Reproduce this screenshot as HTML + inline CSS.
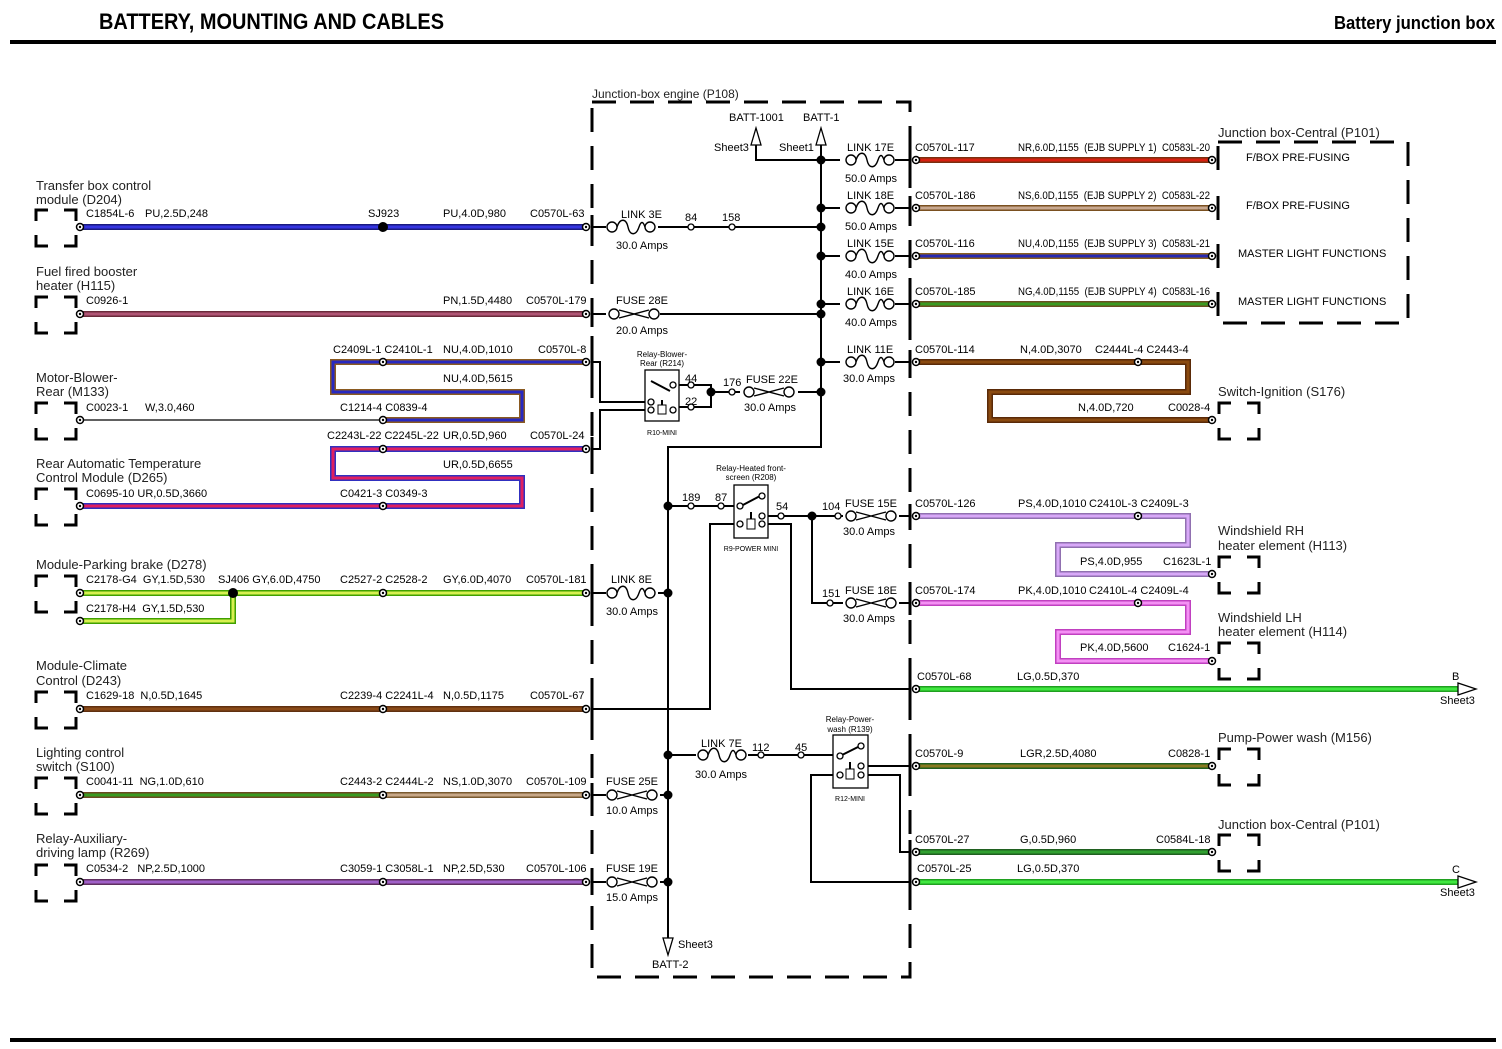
<!DOCTYPE html>
<html><head><meta charset="utf-8"><style>
body{margin:0;background:#fff;}
svg{display:block;font-family:"Liberation Sans",Arial,sans-serif;}
.t{font-size:11px;fill:#000}
.n{font-size:13px;fill:#222}
.s{font-size:7px;fill:#000}
.k{stroke:#000;stroke-width:2;fill:none}
.k1{stroke:#000;stroke-width:1.3;fill:none}
.o{fill:none;stroke-width:6;stroke-linejoin:miter}
.i{fill:none;stroke-width:3;stroke-linejoin:miter}
.d{stroke:#000;stroke-width:3;fill:none;stroke-dasharray:24,14}
</style></head><body>
<svg width="1502" height="1049" viewBox="0 0 1502 1049" xmlns="http://www.w3.org/2000/svg">
<defs>
<g id="brk" fill="none" stroke="#000" stroke-width="3"><path d="M1,12V1H13M29,1H41V12M1,26V37H13M29,37H41V26"/></g>
<g id="lnk" fill="none" stroke="#000" stroke-width="1.4"><circle cx="6" cy="0" r="5" fill="#fff"/><circle cx="44" cy="0" r="5" fill="#fff"/><path d="M11,0C14,-9 20,-9 22,0C24,9 30,9 33,0C35,-6 37,-6 39,0"/></g>
<g id="fus" fill="none" stroke="#000" stroke-width="1.4"><circle cx="6" cy="0" r="5" fill="#fff"/><circle cx="46" cy="0" r="5" fill="#fff"/><path d="M11,-4L41,4M11,4L41,-4"/></g>
<g id="cn"><circle r="3.5" fill="#fff" stroke="#000" stroke-width="1.5"/><circle r="1.2" fill="#000"/></g>
<g id="pc"><circle r="3" fill="#fff" stroke="#000" stroke-width="1.3"/></g>
</defs>

<!-- header -->
<text x="99" y="29" style="font-size:22px;font-weight:bold" textLength="345" lengthAdjust="spacingAndGlyphs">BATTERY, MOUNTING AND CABLES</text>
<text x="1334" y="29" style="font-size:18px;font-weight:bold" textLength="161" lengthAdjust="spacingAndGlyphs">Battery junction box</text>
<rect x="10" y="40" width="1486" height="4" fill="#000"/>
<rect x="10" y="1038" width="1486" height="4" fill="#000"/>

<!-- junction box engine -->
<text x="592" y="98" class="n" style="font-size:12px">Junction-box engine (P108)</text>
<path class="d" d="M592,102H910V977H592Z"/>

<!-- left brackets -->
<use href="#brk" x="35" y="209"/><use href="#brk" x="35" y="296"/><use href="#brk" x="35" y="402"/><use href="#brk" x="35" y="488"/>
<use href="#brk" x="35" y="575"/><use href="#brk" x="35" y="691"/><use href="#brk" x="35" y="777"/><use href="#brk" x="35" y="864"/>
<text class="n" x="36" y="190">Transfer box control</text><text class="n" x="36" y="204">module (D204)</text>
<text class="n" x="36" y="276">Fuel fired booster</text><text class="n" x="36" y="290">heater (H115)</text>
<text class="n" x="36" y="382">Motor-Blower-</text><text class="n" x="36" y="396">Rear (M133)</text>
<text class="n" x="36" y="468">Rear Automatic Temperature</text><text class="n" x="36" y="482">Control Module (D265)</text>
<text class="n" x="36" y="569">Module-Parking brake (D278)</text>
<text class="n" x="36" y="670">Module-Climate</text><text class="n" x="36" y="685">Control (D243)</text>
<text class="n" x="36" y="757">Lighting control</text><text class="n" x="36" y="771">switch (S100)</text>
<text class="n" x="36" y="843">Relay-Auxiliary-</text><text class="n" x="36" y="857">driving lamp (R269)</text>

<!-- right brackets -->
<text class="n" x="1218" y="137">Junction box-Central (P101)</text>
<path d="M1218,142H1408V323H1218" fill="none" stroke="#000" stroke-width="3" stroke-dasharray="24,14"/>
<path d="M1218,146V170M1218,196V220M1218,244V268M1218,292V316" stroke="#000" stroke-width="3"/>
<text class="t" x="1246" y="161">F/BOX PRE-FUSING</text><text class="t" x="1246" y="209">F/BOX PRE-FUSING</text>
<text class="t" x="1238" y="257">MASTER LIGHT FUNCTIONS</text><text class="t" x="1238" y="305">MASTER LIGHT FUNCTIONS</text>
<text class="n" x="1218" y="396">Switch-Ignition (S176)</text><use href="#brk" x="1218" y="402"/>
<text class="n" x="1218" y="535">Windshield RH</text><text class="n" x="1218" y="550">heater element (H113)</text><use href="#brk" x="1218" y="556"/>
<text class="n" x="1218" y="622">Windshield LH</text><text class="n" x="1218" y="636">heater element (H114)</text><use href="#brk" x="1218" y="642"/>
<text class="n" x="1218" y="742">Pump-Power wash (M156)</text><use href="#brk" x="1218" y="748"/>
<text class="n" x="1218" y="829">Junction box-Central (P101)</text><use href="#brk" x="1218" y="834"/>

<!-- WIRES (outer/inner) -->
<g>
<path class="o" stroke="#1a1a80" d="M80,227H586"/><path class="i" stroke="#3535e0" d="M80,227H586"/>
<path class="o" stroke="#6a2a3a" d="M80,314H586"/><path class="i" stroke="#b05575" d="M80,314H586"/>
<path class="o" stroke="#8a5a20" d="M586,362H333V392H522V420H383"/><path class="i" stroke="#2828c0" d="M586,362H333V392H522V420H383"/>
<path class="k1" d="M80,420H380"/>
<path class="o" stroke="#3030c0" d="M586,449H333V478H522V506H80"/><path class="i" stroke="#e02060" d="M586,449H333V478H522V506H80"/>
<path class="o" stroke="#40a000" d="M80,593H586M80,621H233V593"/><path class="i" stroke="#d8f050" d="M80,593H586M80,621H233V593"/>
<path class="o" stroke="#603010" d="M80,709H586"/><path class="i" stroke="#8a4a18" d="M80,709H586"/>
<path class="o" stroke="#6a4a20" d="M80,795H383"/><path class="i" stroke="#3a9a20" d="M80,795H383"/>
<path class="o" stroke="#7a5a30" d="M383,795H586"/><path class="i" stroke="#c8a888" d="M383,795H586"/>
<path class="o" stroke="#603060" d="M80,882H586"/><path class="i" stroke="#a060c8" d="M80,882H586"/>

<path class="o" stroke="#7a3010" d="M916,160H1212"/><path class="i" stroke="#d82010" d="M916,160H1212"/>
<path class="o" stroke="#7a5020" d="M916,208H1212"/><path class="i" stroke="#c8a890" d="M916,208H1212"/>
<path class="o" stroke="#8a6020" d="M916,256H1212"/><path class="i" stroke="#2828b0" d="M916,256H1212"/>
<path class="o" stroke="#6a5020" d="M916,304H1212"/><path class="i" stroke="#3a9a20" d="M916,304H1212"/>
<path class="o" stroke="#5a2a08" d="M916,362H1188V392H990V420H1212"/><path class="i" stroke="#8a4a10" d="M916,362H1188V392H990V420H1212"/>
<path class="o" stroke="#9070b0" d="M916,516H1188V545H1058V574H1212"/><path class="i" stroke="#d8a8f8" d="M916,516H1188V545H1058V574H1212"/>
<path class="o" stroke="#c040c0" d="M916,603H1188V632H1058V661H1212"/><path class="i" stroke="#f490f4" d="M916,603H1188V632H1058V661H1212"/>
<path class="o" stroke="#20a020" d="M916,689H1462"/><path class="i" stroke="#40e840" d="M916,689H1462"/>
<path class="o" stroke="#206020" d="M916,766H1212"/><path class="i" stroke="#8a7a20" d="M916,766H1212"/>
<path class="o" stroke="#206020" d="M916,852H1212"/><path class="i" stroke="#30a030" d="M916,852H1212"/>
<path class="o" stroke="#20a020" d="M916,882H1462"/><path class="i" stroke="#40e840" d="M916,882H1462"/>
</g>
<!-- arrows B C -->
<path d="M1458,683L1476,689L1458,695Z M1458,876L1476,882L1458,888Z" fill="#fff" stroke="#000" stroke-width="1.3"/>
<text class="t" x="1452" y="680">B</text><text class="t" x="1440" y="704">Sheet3</text>
<text class="t" x="1452" y="873">C</text><text class="t" x="1440" y="896">Sheet3</text>

<!-- splice dots -->
<circle cx="383" cy="227" r="5"/><circle cx="233" cy="593" r="5"/>
<text class="t" x="368" y="217">SJ923</text>

<!-- connectors -->
<g>
<use href="#cn" x="80" y="227"/><use href="#cn" x="586" y="227"/>
<use href="#cn" x="80" y="314"/><use href="#cn" x="586" y="314"/>
<use href="#cn" x="383" y="362"/><use href="#cn" x="586" y="362"/>
<use href="#cn" x="80" y="420"/><use href="#cn" x="383" y="420"/>
<use href="#cn" x="383" y="449"/><use href="#cn" x="586" y="449"/>
<use href="#cn" x="80" y="506"/><use href="#cn" x="383" y="506"/>
<use href="#cn" x="80" y="593"/><use href="#cn" x="80" y="621"/><use href="#cn" x="383" y="593"/><use href="#cn" x="586" y="593"/>
<use href="#cn" x="80" y="709"/><use href="#cn" x="383" y="709"/><use href="#cn" x="586" y="709"/>
<use href="#cn" x="80" y="795"/><use href="#cn" x="383" y="795"/><use href="#cn" x="586" y="795"/>
<use href="#cn" x="80" y="882"/><use href="#cn" x="383" y="882"/><use href="#cn" x="586" y="882"/>
<use href="#cn" x="916" y="160"/><use href="#cn" x="1212" y="160"/>
<use href="#cn" x="916" y="208"/><use href="#cn" x="1212" y="208"/>
<use href="#cn" x="916" y="256"/><use href="#cn" x="1212" y="256"/>
<use href="#cn" x="916" y="304"/><use href="#cn" x="1212" y="304"/>
<use href="#cn" x="916" y="362"/><use href="#cn" x="1138" y="362"/><use href="#cn" x="1212" y="420"/>
<use href="#cn" x="916" y="516"/><use href="#cn" x="1138" y="516"/><use href="#cn" x="1212" y="574"/>
<use href="#cn" x="916" y="603"/><use href="#cn" x="1138" y="603"/><use href="#cn" x="1212" y="661"/>
<use href="#cn" x="916" y="689"/><use href="#cn" x="916" y="766"/><use href="#cn" x="1212" y="766"/>
<use href="#cn" x="916" y="852"/><use href="#cn" x="1212" y="852"/><use href="#cn" x="916" y="882"/>
</g>
<path d="M592,215V240M592,302V327M592,350V374M592,437V462M592,581V606M592,697V722M592,783V808M592,870V895M910,148V172M910,196V220M910,244V268M910,292V316M910,350V374M910,504V528M910,591V615M910,677V701M910,754V778M910,840V864M910,870V894" stroke="#000" stroke-width="3"/>

<!-- left wire labels -->
<g class="t">
<text x="86" y="217">C1854L-6</text><text x="145" y="217">PU,2.5D,248</text><text x="443" y="217">PU,4.0D,980</text><text x="530" y="217">C0570L-63</text>
<text x="86" y="304">C0926-1</text><text x="443" y="304">PN,1.5D,4480</text><text x="526" y="304">C0570L-179</text>
<text x="333" y="353">C2409L-1 C2410L-1</text><text x="443" y="353">NU,4.0D,1010</text><text x="538" y="353">C0570L-8</text>
<text x="443" y="382">NU,4.0D,5615</text>
<text x="86" y="411">C0023-1</text><text x="145" y="411">W,3.0,460</text><text x="340" y="411">C1214-4 C0839-4</text>
<text x="327" y="439">C2243L-22 C2245L-22</text><text x="443" y="439">UR,0.5D,960</text><text x="530" y="439">C0570L-24</text>
<text x="443" y="468">UR,0.5D,6655</text>
<text x="86" y="497">C0695-10 UR,0.5D,3660</text><text x="340" y="497">C0421-3 C0349-3</text>
<text x="86" y="583">C2178-G4&#160;&#160;GY,1.5D,530</text><text x="218" y="583">SJ406 GY,6.0D,4750</text><text x="340" y="583">C2527-2 C2528-2</text><text x="443" y="583">GY,6.0D,4070</text><text x="526" y="583">C0570L-181</text>
<text x="86" y="612">C2178-H4&#160;&#160;GY,1.5D,530</text>
<text x="86" y="699">C1629-18&#160;&#160;N,0.5D,1645</text><text x="340" y="699">C2239-4 C2241L-4</text><text x="443" y="699">N,0.5D,1175</text><text x="530" y="699">C0570L-67</text>
<text x="86" y="785">C0041-11&#160;&#160;NG,1.0D,610</text><text x="340" y="785">C2443-2 C2444L-2</text><text x="443" y="785">NS,1.0D,3070</text><text x="526" y="785">C0570L-109</text>
<text x="86" y="872">C0534-2&#160;&#160;&#160;NP,2.5D,1000</text><text x="340" y="872">C3059-1 C3058L-1</text><text x="443" y="872">NP,2.5D,530</text><text x="526" y="872">C0570L-106</text>
</g>
<!-- right wire labels -->
<g class="t">
<text x="915" y="151">C0570L-117</text><text x="1018" y="151" textLength="192" lengthAdjust="spacingAndGlyphs">NR,6.0D,1155&#160;&#160;(EJB SUPPLY 1)&#160;&#160;C0583L-20</text>
<text x="915" y="199">C0570L-186</text><text x="1018" y="199" textLength="192" lengthAdjust="spacingAndGlyphs">NS,6.0D,1155&#160;&#160;(EJB SUPPLY 2)&#160;&#160;C0583L-22</text>
<text x="915" y="247">C0570L-116</text><text x="1018" y="247" textLength="192" lengthAdjust="spacingAndGlyphs">NU,4.0D,1155&#160;&#160;(EJB SUPPLY 3)&#160;&#160;C0583L-21</text>
<text x="915" y="295">C0570L-185</text><text x="1018" y="295" textLength="192" lengthAdjust="spacingAndGlyphs">NG,4.0D,1155&#160;&#160;(EJB SUPPLY 4)&#160;&#160;C0583L-16</text>
<text x="915" y="353">C0570L-114</text><text x="1020" y="353">N,4.0D,3070</text><text x="1095" y="353">C2444L-4 C2443-4</text>
<text x="1078" y="411">N,4.0D,720</text><text x="1168" y="411">C0028-4</text>
<text x="915" y="507">C0570L-126</text><text x="1018" y="507">PS,4.0D,1010</text><text x="1089" y="507">C2410L-3 C2409L-3</text>
<text x="1080" y="565">PS,4.0D,955</text><text x="1163" y="565">C1623L-1</text>
<text x="915" y="594">C0570L-174</text><text x="1018" y="594">PK,4.0D,1010</text><text x="1089" y="594">C2410L-4 C2409L-4</text>
<text x="1080" y="651">PK,4.0D,5600</text><text x="1168" y="651">C1624-1</text>
<text x="917" y="680">C0570L-68</text><text x="1017" y="680">LG,0.5D,370</text>
<text x="915" y="757">C0570L-9</text><text x="1020" y="757">LGR,2.5D,4080</text><text x="1168" y="757">C0828-1</text>
<text x="915" y="843">C0570L-27</text><text x="1020" y="843">G,0.5D,960</text><text x="1156" y="843">C0584L-18</text>
<text x="917" y="872">C0570L-25</text><text x="1017" y="872">LG,0.5D,370</text>
</g>

<!-- internal wiring -->
<g class="k">
<path d="M756,138V160H821"/>
<path d="M821,138V447H668V940"/>
<path d="M592,227H821M592,314H821M821,208H910M821,256H910M821,304H910M821,160H910M821,362H910"/>
<path d="M592,362H600V402H650M592,449H600V410H650"/>
<path d="M678,385H711V407H678M711,392H821"/>
<path d="M668,506H740"/>
<path d="M765,516H910M812,516V603H910"/>
<path d="M740,524H710V709H592M765,524H791V689H910"/>
<path d="M592,593H668M592,795H668M592,882H668"/>
<path d="M668,755H836M864,766H910M836,775H811V882H910M864,775H900V852H910"/>
</g>
<g>
<circle cx="821" cy="160" r="4.5"/><circle cx="821" cy="208" r="4.5"/><circle cx="821" cy="227" r="4.5"/><circle cx="821" cy="256" r="4.5"/><circle cx="821" cy="304" r="4.5"/><circle cx="821" cy="314" r="4.5"/><circle cx="821" cy="362" r="4.5"/><circle cx="821" cy="392" r="4.5"/><circle cx="711" cy="392" r="4.5"/>
<circle cx="668" cy="506" r="4.5"/><circle cx="668" cy="593" r="4.5"/><circle cx="668" cy="755" r="4.5"/><circle cx="668" cy="795" r="4.5"/><circle cx="668" cy="882" r="4.5"/><circle cx="812" cy="516" r="4.5"/>
</g>
<g>
<rect x="606" y="220" width="52" height="14" fill="#fff"/><use href="#lnk" x="606" y="227"/>
<rect x="606" y="307" width="54" height="14" fill="#fff"/><use href="#fus" x="608" y="314"/>
<rect x="740" y="385" width="58" height="14" fill="#fff"/><use href="#fus" x="743" y="392"/>
<rect x="840" y="153" width="55" height="14" fill="#fff"/><use href="#lnk" x="845" y="160"/>
<rect x="840" y="201" width="55" height="14" fill="#fff"/><use href="#lnk" x="845" y="208"/>
<rect x="840" y="249" width="55" height="14" fill="#fff"/><use href="#lnk" x="845" y="256"/>
<rect x="840" y="297" width="55" height="14" fill="#fff"/><use href="#lnk" x="845" y="304"/>
<rect x="840" y="355" width="55" height="14" fill="#fff"/><use href="#lnk" x="845" y="362"/>
<rect x="843" y="509" width="56" height="14" fill="#fff"/><use href="#fus" x="845" y="516"/>
<rect x="843" y="596" width="56" height="14" fill="#fff"/><use href="#fus" x="845" y="603"/>
<rect x="606" y="586" width="52" height="14" fill="#fff"/><use href="#lnk" x="606" y="593"/>
<rect x="696" y="748" width="52" height="14" fill="#fff"/><use href="#lnk" x="697" y="755"/>
<rect x="606" y="788" width="54" height="14" fill="#fff"/><use href="#fus" x="606" y="795"/>
<rect x="606" y="875" width="54" height="14" fill="#fff"/><use href="#fus" x="606" y="882"/>
</g>
<g>
<use href="#pc" x="691" y="227"/><use href="#pc" x="732" y="227"/><use href="#pc" x="691" y="385"/><use href="#pc" x="691" y="407"/><use href="#pc" x="732" y="392"/>
<use href="#pc" x="691" y="506"/><use href="#pc" x="721" y="506"/><use href="#pc" x="781" y="516"/><use href="#pc" x="838" y="516"/><use href="#pc" x="830" y="603"/>
<use href="#pc" x="761" y="755"/><use href="#pc" x="801" y="755"/>
</g>
<g class="t">
<text x="621" y="218">LINK 3E</text><text x="616" y="249">30.0 Amps</text><text x="685" y="221">84</text><text x="722" y="221">158</text>
<text x="616" y="304">FUSE 28E</text><text x="616" y="334">20.0 Amps</text>
<text x="685" y="382">44</text><text x="685" y="405">22</text><text x="723" y="386">176</text><text x="746" y="383">FUSE 22E</text><text x="744" y="411">30.0 Amps</text>
<text x="847" y="151">LINK 17E</text><text x="845" y="182">50.0 Amps</text>
<text x="847" y="199">LINK 18E</text><text x="845" y="230">50.0 Amps</text>
<text x="847" y="247">LINK 15E</text><text x="845" y="278">40.0 Amps</text>
<text x="847" y="295">LINK 16E</text><text x="845" y="326">40.0 Amps</text>
<text x="847" y="353">LINK 11E</text><text x="843" y="382">30.0 Amps</text>
<text x="682" y="501">189</text><text x="715" y="501">87</text><text x="776" y="510">54</text><text x="822" y="510">104</text><text x="845" y="507">FUSE 15E</text><text x="843" y="535">30.0 Amps</text>
<text x="822" y="597">151</text><text x="845" y="594">FUSE 18E</text><text x="843" y="622">30.0 Amps</text>
<text x="611" y="583">LINK 8E</text><text x="606" y="615">30.0 Amps</text>
<text x="701" y="747">LINK 7E</text><text x="695" y="778">30.0 Amps</text><text x="752" y="751">112</text><text x="795" y="751">45</text>
<text x="606" y="785">FUSE 25E</text><text x="606" y="814">10.0 Amps</text>
<text x="606" y="872">FUSE 19E</text><text x="606" y="901">15.0 Amps</text>
<text x="729" y="121">BATT-1001</text><text x="803" y="121">BATT-1</text><text x="714" y="151">Sheet3</text><text x="779" y="151">Sheet1</text>
<text x="678" y="948">Sheet3</text><text x="652" y="968">BATT-2</text>
</g>
<path d="M751,145L756,128L761,145Z M816,145L821,128L826,145Z M663,938L668,955L673,938Z" fill="#fff" stroke="#000" stroke-width="1.3"/>

<!-- relays -->
<g>
<text class="s" x="662" y="357" text-anchor="middle" style="font-size:8px">Relay-Blower-</text><text class="s" x="662" y="366" text-anchor="middle" style="font-size:8px">Rear (R214)</text>
<rect x="645" y="370" width="34" height="51" fill="#fff" stroke="#000" stroke-width="1.3"/>
<path d="M651,381L670,391M662,400V407" stroke="#000" stroke-width="2"/>
<rect x="658" y="405" width="8" height="9" fill="#fff" stroke="#000"/>
<use href="#pc" x="651" y="402"/><use href="#pc" x="651" y="410"/><use href="#pc" x="673" y="385"/><use href="#pc" x="673" y="410"/>
<text class="s" x="662" y="435" text-anchor="middle">R10-MINI</text>

<text class="s" x="751" y="471" text-anchor="middle" style="font-size:8px">Relay-Heated front-</text><text class="s" x="751" y="480" text-anchor="middle" style="font-size:8px">screen (R208)</text>
<rect x="734" y="485" width="34" height="53" fill="#fff" stroke="#000" stroke-width="1.3"/>
<path d="M741,506L760,496M751,512V520" stroke="#000" stroke-width="2"/>
<rect x="747" y="519" width="8" height="10" fill="#fff" stroke="#000"/>
<use href="#pc" x="740" y="506"/><use href="#pc" x="762" y="496"/><use href="#pc" x="740" y="524"/><use href="#pc" x="762" y="516"/><use href="#pc" x="762" y="524"/>
<text class="s" x="751" y="551" text-anchor="middle">R9-POWER MINI</text>

<text class="s" x="850" y="722" text-anchor="middle" style="font-size:8px">Relay-Power-</text><text class="s" x="850" y="732" text-anchor="middle" style="font-size:8px">wash (R139)</text>
<rect x="833" y="735" width="35" height="53" fill="#fff" stroke="#000" stroke-width="1.3"/>
<path d="M840,756L860,746M850,762V770" stroke="#000" stroke-width="2"/>
<rect x="846" y="769" width="8" height="10" fill="#fff" stroke="#000"/>
<use href="#pc" x="840" y="756"/><use href="#pc" x="861" y="746"/><use href="#pc" x="861" y="766"/><use href="#pc" x="840" y="775"/><use href="#pc" x="861" y="775"/>
<text class="s" x="850" y="801" text-anchor="middle">R12-MINI</text>
</g>
</svg>
</body></html>
